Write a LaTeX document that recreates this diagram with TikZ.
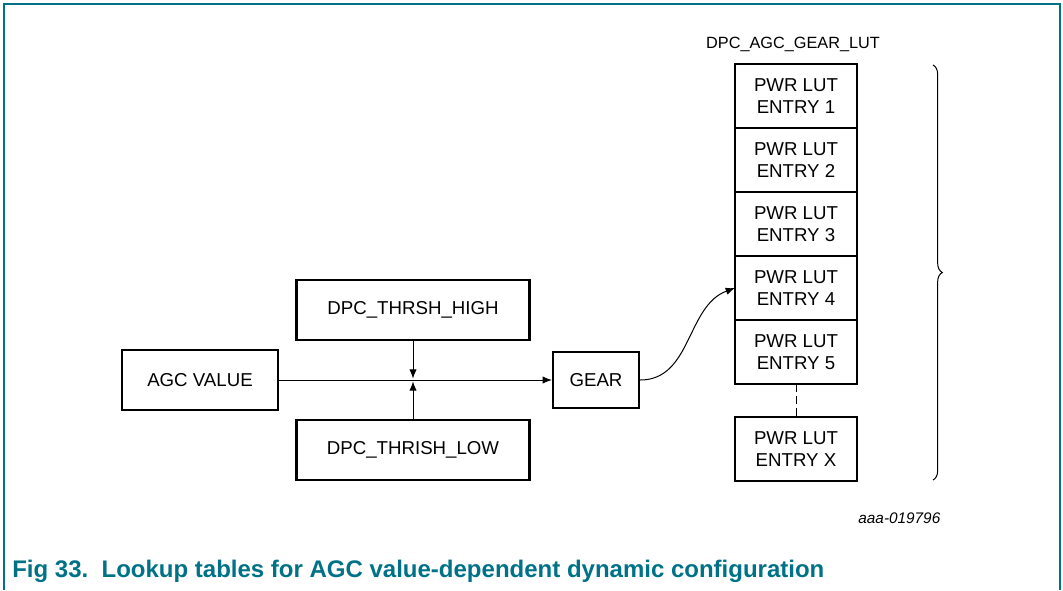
\documentclass[tikz,border=0pt]{standalone}
\usepackage{fontspec}
\setmainfont{Liberation Sans}
\usetikzlibrary{positioning,arrows.meta,decorations.pathreplacing}
\definecolor{capteal}{RGB}{0,114,135}
\begin{document}
\begin{tikzpicture}[x=0.75pt,y=0.75pt,
  box/.style={draw,line width=1.6pt,align=center,inner sep=0pt,
    font=\fontsize{14}{16.5}\selectfont},
  lut/.style={box,minimum width=91.5pt,minimum height=48pt,outer sep=0pt},
  conn/.style={line width=0.75pt,-{Latex[length=7pt,width=5.5pt]}}]
  \useasboundingbox (0,0) rectangle (1063,-590);
  \draw[capteal,line width=1.5pt] (4,-590) -- (4,-4) -- (1060,-4) -- (1060,-590);
  \node[box,minimum width=117pt,minimum height=45pt] (agc) at (200,-380) {AGC VALUE};
  \node[box,minimum width=174.75pt,minimum height=45pt] (thigh) at (413,-310) {DPC\_THRSH\_HIGH};
  \node[box,minimum width=174.75pt,minimum height=45pt] (tlow) at (413,-450) {DPC\_THRISH\_LOW};
  \node[box,minimum width=64.5pt,minimum height=42pt] (gear) at (596,-380) {GEAR};
  \node[lut] (e1) at (796,-96) {PWR LUT\\ENTRY 1};
  \node[lut,below=0pt of e1] (e2) {PWR LUT\\ENTRY 2};
  \node[lut,below=0pt of e2] (e3) {PWR LUT\\ENTRY 3};
  \node[lut,below=0pt of e3] (e4) {PWR LUT\\ENTRY 4};
  \node[lut,below=0pt of e4] (e5) {PWR LUT\\ENTRY 5};
  \node[lut] (ex) at (796,-449) {PWR LUT\\ENTRY X};
  \node[font=\fontsize{12.2}{14}\selectfont] (lutname) at (793,-44) {DPC\_AGC\_GEAR\_LUT};
  \coordinate (jhi) at ([yshift=1pt]thigh.south |- agc.east);
  \coordinate (jlo) at ([yshift=-1pt]thigh.south |- agc.east);
  \coordinate (btop) at (933,-65);
  \coordinate (bbot) at (933,-480);
  \draw[conn] (agc) -- (gear);
  \draw[conn] (thigh) -- (jhi);
  \draw[conn] (tlow) -- (jlo);
  \draw[conn] (gear.east) to[out=0,in=200] (e4.west);
  \draw[line width=0.75pt,dash pattern=on 6pt off 3pt] (e5.south) -- (ex.north);
  \draw[line width=0.75pt,decorate,decoration={brace,amplitude=7pt}] (btop) -- (bbot);
  \node[anchor=base east,font=\fontsize{11.5}{13}\selectfont\itshape] (figid) at (945,-523) {aaa-019796};
  \node[anchor=base west,inner sep=0pt,text=capteal,font=\fontsize{18}{21}\selectfont\bfseries] (caption) at (12,-577)
    {Fig 33.\ \ Lookup tables for AGC value-dependent dynamic configuration};
\end{tikzpicture}
\end{document}
